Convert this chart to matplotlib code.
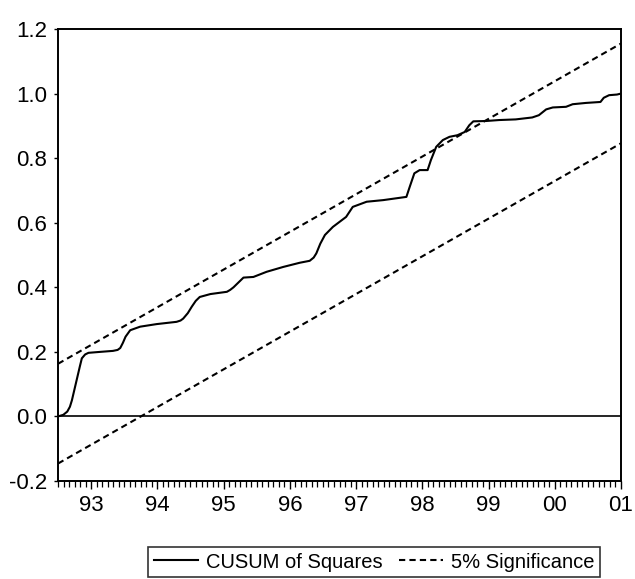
import numpy as np
import matplotlib
matplotlib.use("Agg")
import matplotlib.pyplot as plt
from matplotlib.ticker import MultipleLocator

plt.rcParams['font.family'] = ['Liberation Sans', 'DejaVu Sans']

# CUSUM of squares (decimal years) -------------------------------------------
dates = [1992.50, 1992.58, 1992.64, 1992.68, 1992.71, 1992.75, 1992.79, 1992.83,
         1992.86, 1992.91, 1992.96, 1993.14, 1993.33, 1993.40,
         1993.44, 1993.48, 1993.52, 1993.59, 1993.74, 1993.99, 1994.29, 1994.35,
         1994.39, 1994.46, 1994.52, 1994.58, 1994.64, 1994.80, 1995.05, 1995.10,
         1995.15, 1995.25, 1995.30, 1995.45, 1995.65,
         1995.90, 1996.15, 1996.30, 1996.36, 1996.40, 1996.46, 1996.53, 1996.65,
         1996.85, 1996.95, 1997.16, 1997.41, 1997.76, 1997.81, 1997.88, 1997.96,
         1998.08, 1998.13, 1998.21, 1998.31, 1998.41, 1998.53, 1998.64, 1998.71,
         1998.77, 1998.96, 1999.16, 1999.41, 1999.66, 1999.76, 1999.87, 1999.97,
         2000.17, 2000.27, 2000.47, 2000.69, 2000.74, 2000.82, 2000.94, 2001.00]
cusum_sq = [0.000, 0.005, 0.015, 0.030, 0.050, 0.085, 0.120, 0.155,
            0.180, 0.192, 0.197, 0.200, 0.203, 0.206,
            0.212, 0.228, 0.247, 0.267, 0.278, 0.286, 0.293, 0.297,
            0.303, 0.320, 0.340, 0.358, 0.370, 0.379, 0.386, 0.392,
            0.400, 0.420, 0.430, 0.432, 0.448,
            0.463, 0.476, 0.482, 0.492, 0.505, 0.535, 0.562, 0.587,
            0.618, 0.649, 0.665, 0.670, 0.680, 0.711, 0.753, 0.763,
            0.763, 0.794, 0.835, 0.856, 0.866, 0.871, 0.881, 0.902,
            0.914, 0.915, 0.918, 0.920, 0.926, 0.933, 0.951, 0.957,
            0.959, 0.967, 0.971, 0.974, 0.987, 0.995, 0.997, 1.000]

# 5% significance bounds (straight lines, start and end)
sig_dates = [1992.50, 2001.00]
sig_upper = [0.163, 1.155]
sig_lower = [-0.146, 0.846]

year_ticks = [1993, 1994, 1995, 1996, 1997, 1998, 1999, 2000, 2001]
year_labels = ['93', '94', '95', '96', '97', '98', '99', '00', '01']

# plot ------------------------------------------------------------------------
fig = plt.figure(figsize=(6.35, 5.79), dpi=100)
ax = fig.add_axes([58 / 635, 1 - 481 / 579, 563 / 635, 452 / 579])

ax.plot(dates, cusum_sq, color='black', lw=1.5, solid_joinstyle='round',
        label='CUSUM of Squares')
ax.plot(sig_dates, sig_upper, color='black', lw=1.5, dashes=(3, 2),
        label='5% Significance')
ax.plot(sig_dates, sig_lower, color='black', lw=1.5, dashes=(3, 2))
ax.axhline(0, color='black', lw=1.2)

ax.set_xlim(1992.5, 2001.0)
ax.set_ylim(-0.2, 1.2)
ax.set_yticks(np.arange(-0.2, 1.21, 0.2))
ax.set_yticklabels(['-0.2', '0.0', '0.2', '0.4', '0.6', '0.8', '1.0', '1.2'])
ax.set_xticks(year_ticks)
ax.set_xticklabels(year_labels)
ax.xaxis.set_minor_locator(MultipleLocator(1 / 12))

for s in ax.spines.values():
    s.set_linewidth(1.4)
    s.set_color('black')
ax.tick_params(axis='both', which='major', labelsize=16, direction='out',
               color='black', width=1.0, length=6, pad=4)
ax.tick_params(axis='x', which='minor', bottom=True, direction='out',
               length=4, width=0.9, color='black')
ax.tick_params(axis='y', which='major', length=3, pad=5)

leg = fig.legend(loc='center', bbox_to_anchor=(374 / 635, 1 - 562 / 579),
                 ncol=2, frameon=True, fontsize=14.5, handlelength=2.2,
                 handletextpad=0.4, columnspacing=0.8, borderpad=0.25,
                 fancybox=False, edgecolor='black')
leg.get_frame().set_linewidth(1.2)

fig.savefig('out.png', dpi=100)
